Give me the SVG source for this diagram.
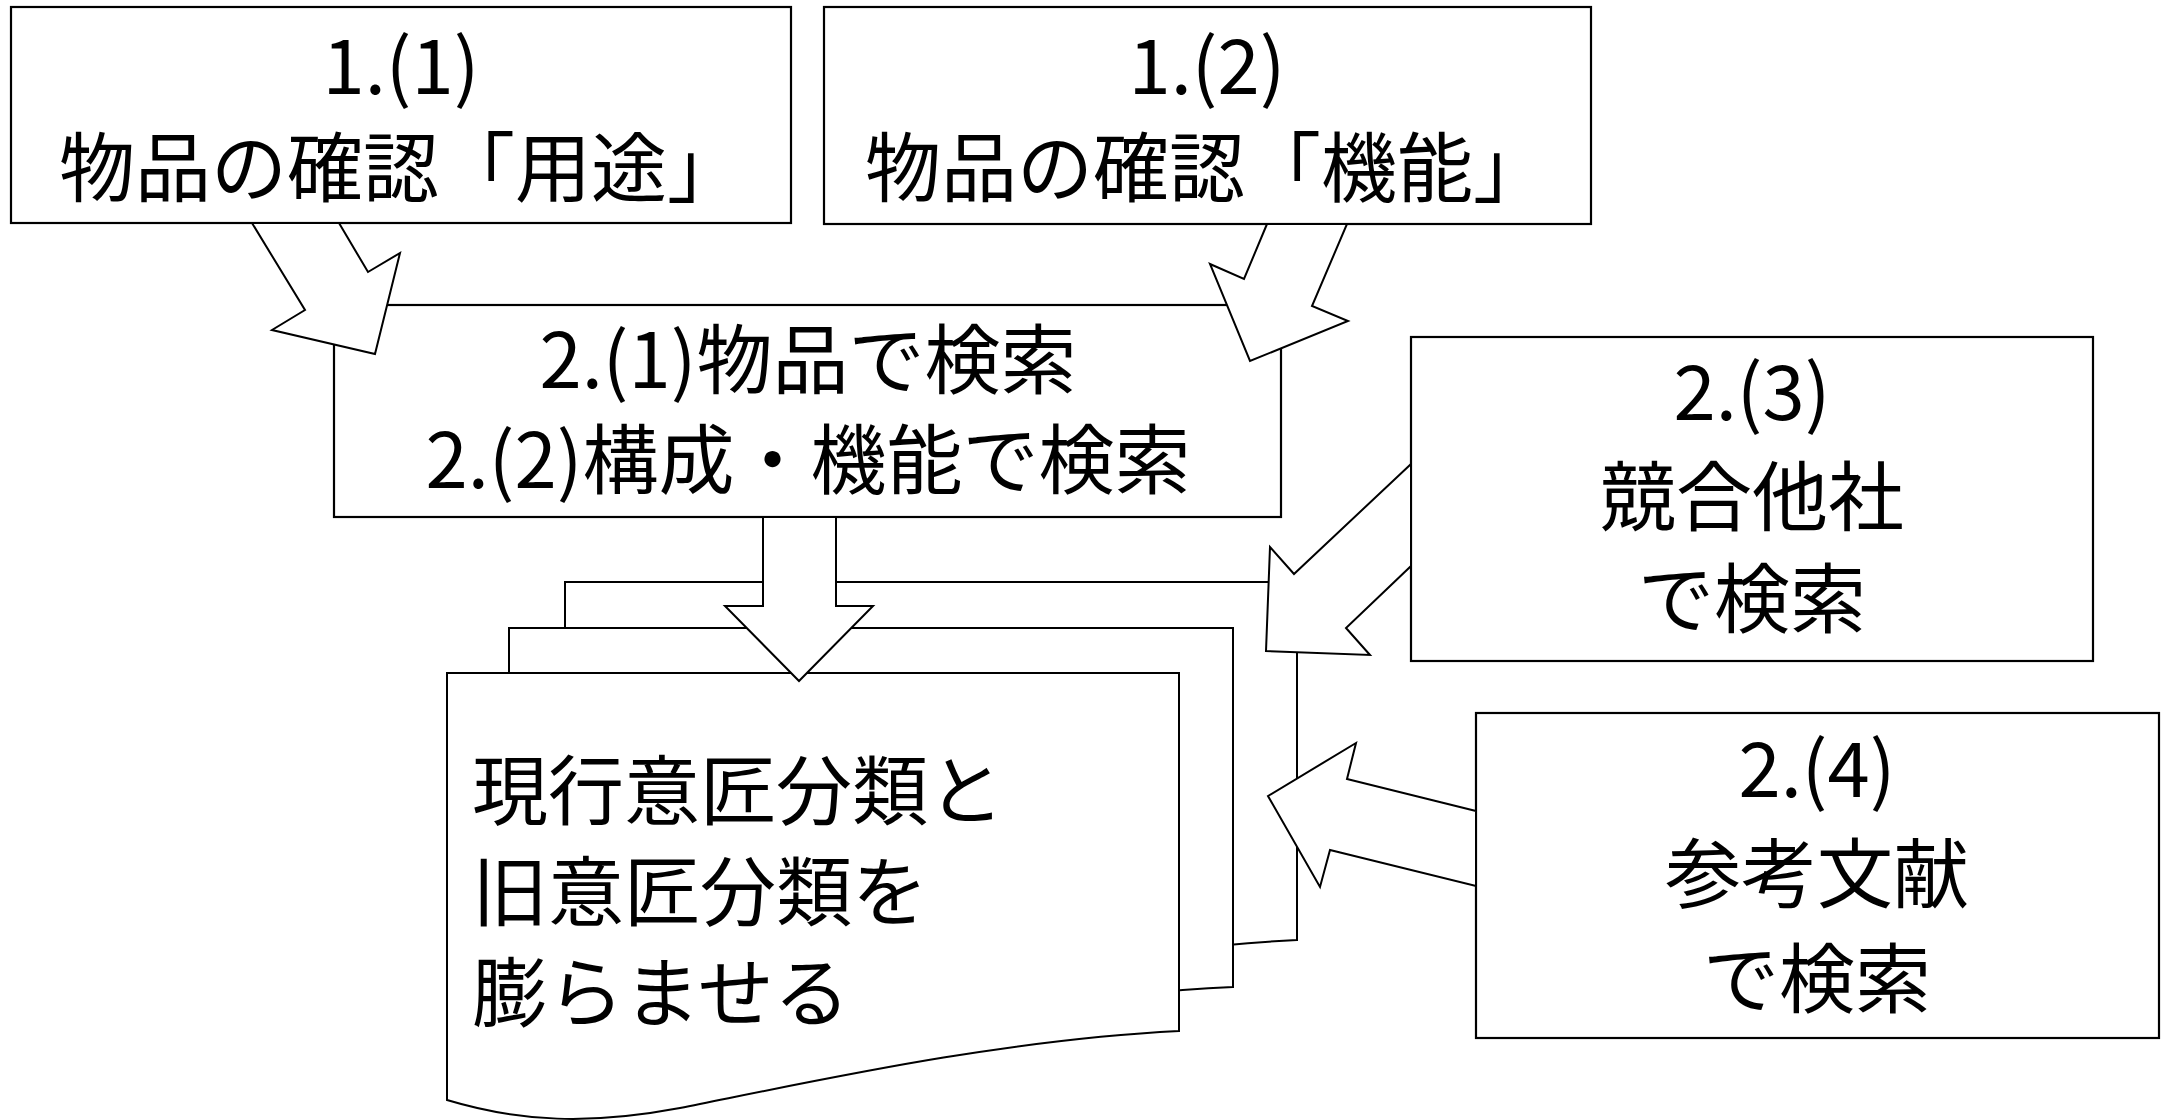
<svg xmlns="http://www.w3.org/2000/svg" width="2168" height="1120" viewBox="0 0 2168 1120">
<style>
.box{fill:#fff;stroke:#000;stroke-width:2.2}
.doc{fill:#fff;stroke:#000;stroke-width:2}
.arr{fill:#fff;stroke:#000;stroke-width:2;stroke-linejoin:miter}
.t{font-family:"Noto Sans CJK JP","Noto Sans",sans-serif;font-size:76px;fill:#000}
.c{text-anchor:middle}
</style>
<rect width="2168" height="1120" fill="#fff"/>
<g id="node-docs">
<path class="doc" d="M565,582 H1297 V940 C1118,949 938,989 798,1017 C708,1034 638,1031 565,1009 Z"/>
<path class="doc" d="M509,628 H1233 V987 C1055,995 875,1035 742,1063 C652,1080 582,1077 509,1055 Z"/>
<path class="doc" d="M447,673 H1179 V1031 C1000,1040 820,1080 680,1108 C590,1125 520,1122 447,1100 Z"/>
<text class="t" x="472" y="819">現行意匠分類と</text>
<text class="t" x="472" y="920">旧意匠分類を</text>
<text class="t" x="472" y="1021">膨らませる</text>
</g>
<g id="node-1-1">
<rect class="box" x="11" y="7" width="780" height="216"/>
<text class="t c" x="401" y="94">1.(1)</text>
<text class="t c" x="401" y="196">物品の確認「用途」</text>
</g>
<g id="node-1-2">
<rect class="box" x="824" y="7" width="767" height="217"/>
<text class="t c" x="1207" y="94">1.(2)</text>
<text class="t c" x="1207" y="196">物品の確認「機能」</text>
</g>
<g id="node-2-12">
<rect class="box" x="334" y="305" width="947" height="212"/>
<text class="t c" x="808" y="388">2.(1)物品で検索</text>
<text class="t c" x="808" y="488">2.(2)構成・機能で検索</text>
</g>
<g id="node-2-3">
<rect class="box" x="1411" y="337" width="682" height="324"/>
<text class="t c" x="1752" y="420">2.(3)</text>
<text class="t c" x="1752" y="525">競合他社</text>
<text class="t c" x="1752" y="627">で検索</text>
</g>
<g id="node-2-4">
<rect class="box" x="1476" y="713" width="683" height="325"/>
<text class="t c" x="1817" y="797">2.(4)</text>
<text class="t c" x="1817" y="902">参考文献</text>
<text class="t c" x="1817" y="1007">で検索</text>
</g>
<g id="connectors">
<polygon class="arr" points="252,223 305,310 272,330 375,354 400,253 368,272 339,223"/>
<polygon class="arr" points="1267,224 1244,279 1210,264 1250,361 1348,321 1312,306 1347,224"/>
<polygon class="arr" points="1411,464 1294,574 1270,547 1266,651 1370,655 1346,628 1411,566"/>
<polygon class="arr" points="1476,811 1347,779 1356,743 1268,796 1320,887 1330,850 1476,886"/>
<polygon class="arr" points="763,517 763,606 725,606 799,681 873,606 836,606 836,517"/>
</g>
</svg>
